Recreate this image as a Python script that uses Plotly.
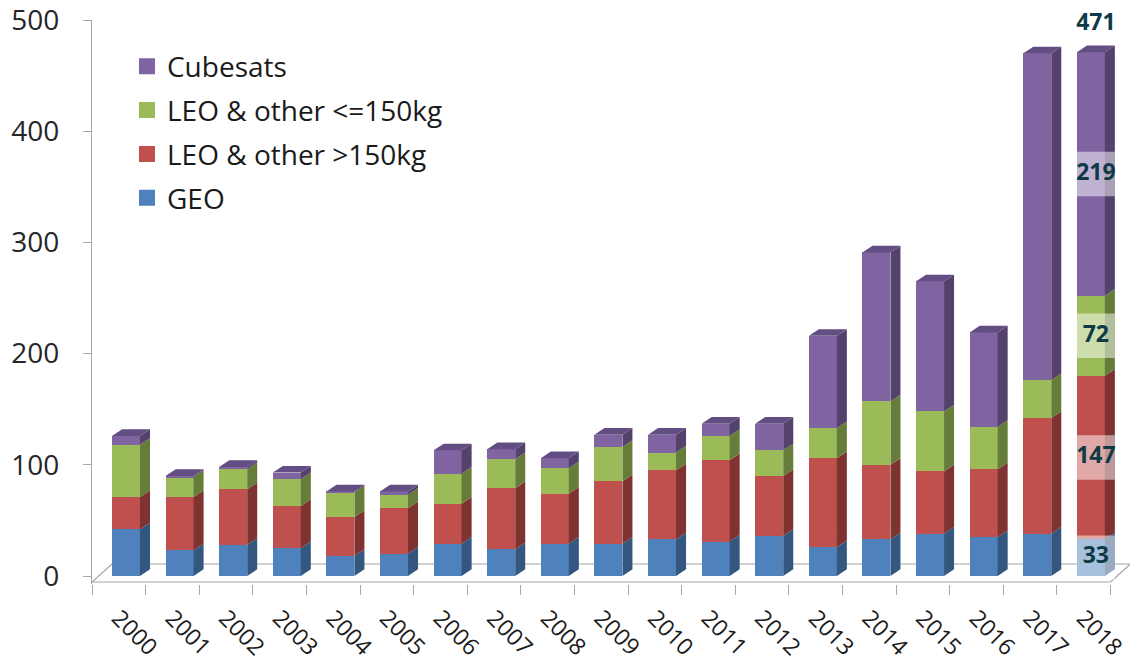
import plotly.graph_objects as go

# ---------------- data ----------------
years = [str(y) for y in range(2000, 2019)]
geo = [42, 23, 28, 25, 18, 20, 29, 24, 29, 29, 33, 31, 36, 26, 33, 38, 35, 38, 33]
leo_big = [29, 48, 50, 38, 35, 41, 36, 55, 45, 56, 62, 73, 54, 80, 67, 56, 61, 104, 147]
leo_small = [47, 18, 18, 24, 22, 12, 27, 26, 23, 31, 16, 22, 23, 27, 57, 54, 38, 34, 72]
cubesats = [8, 1, 2, 6, 1, 3, 21, 9, 9, 11, 16, 11, 24, 83, 134, 117, 85, 294, 219]
series_names = ["GEO", "LEO & other >150kg", "LEO & other <=150kg", "Cubesats"]
y_ticks = [0, 100, 200, 300, 400, 500]

# ---------------- style ----------------
front_colors = ["#4F81BD", "#C0504D", "#9BBB59", "#8064A2"]
side_colors = ["#34577F", "#7E3331", "#667D39", "#54426C"]
top_color = "#634E84"
label_color = "#0E3A47"
axis_gray = "#A6A6A6"
font_family = "Open Sans, Noto Sans, sans-serif"

W = 0.522      # bar width (category units)
DX = 0.187     # depth offset in x (category units)
DY = 6.0       # depth offset in y (value units)
X0 = -0.634
X1 = 18.73
Y0 = -7.19
FLOOR_FRONT = -5.4
FLOOR_BACK = 10.8
LABEL_SHIFT = -0.14

n = len(years)
idx = list(range(n))
all_series = [geo, leo_big, leo_small, cubesats]

fig = go.Figure()

# front faces
for name, vals, col in zip(series_names, all_series, front_colors):
    fig.add_trace(go.Bar(x=idx, y=vals, width=W, name=name, marker=dict(color=col, line=dict(width=0)),
                         showlegend=False, hoverinfo="skip"))

# side faces (computed from the stacked values)
base = [0] * n
for vals, scol in zip(all_series, side_colors):
    xs, ys = [], []
    for i in idx:
        y0 = base[i]
        y1 = base[i] + vals[i]
        r = i + W / 2
        xs += [r, r + DX, r + DX, r, r, None]
        ys += [y0, y0 + DY, y1 + DY, y1, y0, None]
        base[i] = y1
    fig.add_trace(go.Scatter(x=xs, y=ys, mode="lines", fill="toself", fillcolor=scol,
                             line=dict(width=0, color=scol), showlegend=False, hoverinfo="skip"))

totals = base[:]

# top faces
xs, ys = [], []
for i in idx:
    t = totals[i]
    l, r = i - W / 2, i + W / 2
    xs += [l, l + DX, r + DX, r, l, None]
    ys += [t, t + DY, t + DY, t, t, None]
fig.add_trace(go.Scatter(x=xs, y=ys, mode="lines", fill="toself", fillcolor=top_color,
                         line=dict(width=0, color=top_color), showlegend=False, hoverinfo="skip"))

# data labels for the last bar
last = n - 1
cum = 0
bx, by, tx, ty, tt = [], [], [], [], []
for vals in all_series:
    v = vals[last]
    mid = cum + v / 2
    cum += v
    l, r = last - W / 2, last + W / 2 + DX
    bx += [l, r, r, l, l, None]
    by += [mid - 20, mid - 20, mid + 20, mid + 20, mid - 20, None]
    tx.append(last + DX / 2)
    ty.append(mid)
    tt.append(str(v))
tx.append(last + DX / 2)
ty.append(totals[last] + 25)
tt.append(str(totals[last]))
fig.add_trace(go.Scatter(x=bx, y=by, mode="lines", fill="toself", fillcolor="rgba(255,255,255,0.5)",
                         line=dict(width=0), showlegend=False, hoverinfo="skip"))
fig.add_trace(go.Scatter(x=tx, y=ty, mode="text", text=tt, showlegend=False, hoverinfo="skip",
                         textfont=dict(family=font_family, size=23, color=label_color, weight="bold"),
                         cliponaxis=False))

# legend entries (Cubesats listed first)
for k, (name, col) in enumerate(zip(series_names, front_colors)):
    fig.add_trace(go.Scatter(x=[None], y=[None], mode="markers", name=name, legendrank=100 - k,
                             legendgroup="g%d" % k,
                             marker=dict(symbol="square", size=16, color=col)))

# floor
floor_lines = [
    (X0, FLOOR_FRONT, X0 + 19, FLOOR_FRONT),
    (X0 + 0.373, FLOOR_BACK, X0 + 19 + 0.373 + 1, FLOOR_BACK),
    (X0, FLOOR_FRONT, X0 + 0.373, FLOOR_BACK),
    (X0 + 19, FLOOR_FRONT, X0 + 19 + 0.373, FLOOR_BACK),
]
for (xa, ya, xb, yb) in floor_lines:
    fig.add_shape(type="line", x0=xa, y0=ya, x1=xb, y1=yb, xref="x", yref="y", layer="below",
                  line=dict(color=axis_gray, width=1.2))

fig.update_layout(
    width=1130, height=663,
    margin=dict(l=92, r=0, t=20, b=79),
    barmode="stack",
    bargap=0,
    plot_bgcolor="white",
    paper_bgcolor="white",
    font=dict(family=font_family, color="#262626"),
    legend=dict(x=0.0337, y=0.962, xanchor="left", yanchor="top", traceorder="grouped",
                tracegroupgap=4.5, font=dict(size=28, color="#1a1a1a"), bgcolor="rgba(0,0,0,0)",
                itemsizing="trace"),
    xaxis=dict(range=[X0, X1], tickmode="array", tickvals=[i + LABEL_SHIFT for i in idx],
               ticktext=years, tickangle=45,
               tickfont=dict(size=23, color="#1a1a1a"), showgrid=False, zeroline=False, showline=False,
               ticks="", ticklabelstandoff=15, automargin=False, ticklabeloverflow="allow",
               minor=dict(tickmode="linear", tick0=X0, dtick=1, ticks="outside", ticklen=10,
                          tickcolor=axis_gray, tickwidth=1.2, showgrid=False)),
    yaxis=dict(range=[Y0, 500.01], tickmode="array", tickvals=y_ticks, showgrid=False, zeroline=False,
               showline=True, linecolor=axis_gray, linewidth=1.2, ticks="outside", ticklen=8,
               tickcolor=axis_gray, tickwidth=1.2, tickfont=dict(size=28, color="#262626"),
               ticklabelstandoff=18, automargin=False, ticklabeloverflow="allow"),
)

fig.write_html("out.html")
